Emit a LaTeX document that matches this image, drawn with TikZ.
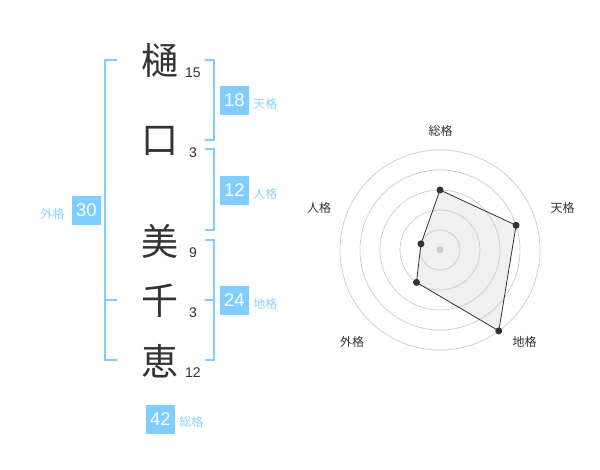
\documentclass[tikz,border=0pt]{standalone}
\usepackage{fontspec}
\setmainfont{Liberation Sans}
\newfontfamily\jp{Noto Sans CJK JP}
\usetikzlibrary{positioning}
\definecolor{kaku}{RGB}{128,206,255}
\definecolor{kakutext}{RGB}{140,210,248}
\definecolor{ink}{RGB}{51,51,51}

\begin{document}
\begin{tikzpicture}[
  x=1pt, y=-1pt,
  kanji/.style={font=\jp\fontsize{37}{37}\selectfont, text=ink, inner sep=0pt},
  strokes/.style={font=\fontsize{14}{14}\selectfont, text=ink, inner sep=0pt},
  kakubox/.style={fill=kaku, text=white, font=\fontsize{18.5}{18.5}\selectfont, minimum size=29pt, inner sep=0pt},
  kakuname/.style={font=\jp\fontsize{12}{12}\selectfont, text=kakutext, inner sep=0pt},
  bracket/.style={draw=kaku, line width=2pt},
  ring/.style={draw=black!20, line width=0.7pt},
  axisname/.style={font=\jp\fontsize{12}{12}\selectfont, text=ink, inner sep=0pt},
  vertex/.style={circle, fill=ink, inner sep=0pt, minimum size=7pt}
]
\useasboundingbox (0,0) rectangle (600,470);

\node[kanji] (k1) at (160,60) {樋};
\node[kanji] (k2) at (160,141) {口};
\node[kanji] (k3) at (160,241) {美};
\node[kanji] (k4) at (160,301) {千};
\node[kanji] (k5) at (160,361) {恵};
\node[strokes] (s1) at (193,73) {15};
\node[strokes] (s2) at (193,153) {3};
\node[strokes] (s3) at (193,253) {9};
\node[strokes] (s4) at (193,313) {3};
\node[strokes] (s5) at (193,373) {12};

\draw[bracket] (117,60) -- (105,60) -- (105,360) -- (117,360) (105,300) -- (117,300);
\draw[bracket] (205,60) -- (214,60) -- (214,140) -- (205,140);
\draw[bracket] (205,149) -- (214,149) -- (214,230) -- (205,230);
\draw[bracket] (205,240) -- (214,240) -- (214,360) -- (205,360) (205,300) -- (214,300);

\node[kakubox] (ten) at (234.5,100.5) {18};
\node[kakuname, right=4pt of ten, yshift=-3pt] (tenl) {天格};
\node[kakubox] (jin) at (234.5,190.5) {12};
\node[kakuname, right=4pt of jin, yshift=-3pt] (jinl) {人格};
\node[kakubox] (chi) at (234.5,300.5) {24};
\node[kakuname, right=4pt of chi, yshift=-3pt] (chil) {地格};
\node[kakubox] (gai) at (86.5,210.5) {30};
\node[kakuname, left=7pt of gai, yshift=-3pt] (gail) {外格};
\node[kakubox] (sou) at (160.5,419) {42};
\node[kakuname, right=4pt of sou, yshift=-3pt] (soul) {総格};

\coordinate (c) at (440,250);
\coordinate (v1) at ([shift={(90:60pt)}]c);
\coordinate (v2) at ([shift={(18:80pt)}]c);
\coordinate (v3) at ([shift={(-54:100pt)}]c);
\coordinate (v4) at ([shift={(-126:40pt)}]c);
\coordinate (v5) at ([shift={(162:20pt)}]c);
\fill[black!6] (v1) -- (v2) -- (v3) -- (v4) -- (v5) -- cycle;
\foreach \r in {20,40,...,100} \draw[ring] (c) circle[radius=\r pt];
\draw[ink, line width=0.8pt] (v1) -- (v2) -- (v3) -- (v4) -- (v5) -- cycle;
\node[vertex, fill=black!20] (ctr) at (c) {};
\foreach \i in {1,...,5} \node[vertex] (d\i) at (v\i) {};

\node[axisname] (a1) at (440.5,131) {総格};
\node[axisname] (a2) at (562.5,208) {天格};
\node[axisname] (a3) at (524.5,342) {地格};
\node[axisname] (a4) at (352,342) {外格};
\node[axisname] (a5) at (319,208) {人格};
\end{tikzpicture}
\end{document}
